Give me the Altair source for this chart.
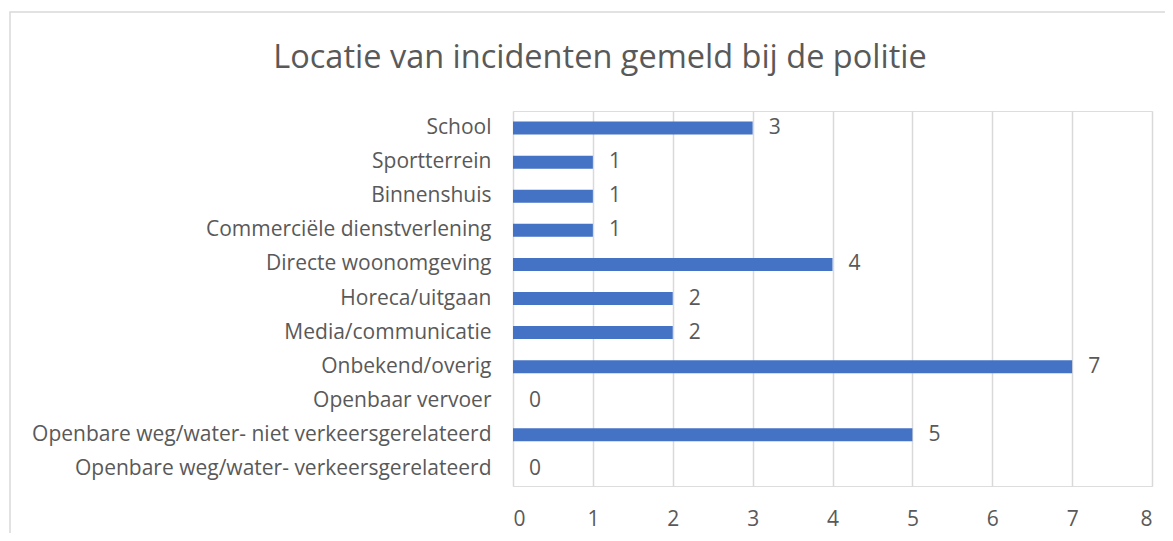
import altair as alt
import pandas as pd

categories = [
    "School",
    "Sportterrein",
    "Binnenshuis",
    "Commerciële dienstverlening",
    "Directe woonomgeving",
    "Horeca/uitgaan",
    "Media/communicatie",
    "Onbekend/overig",
    "Openbaar vervoer",
    "Openbare weg/water- niet verkeersgerelateerd",
    "Openbare weg/water- verkeersgerelateerd",
]
values = [3, 1, 1, 1, 4, 2, 2, 7, 0, 5, 0]
x_ticks = [0, 1, 2, 3, 4, 5, 6, 7, 8]
title_text = "Locatie van incidenten gemeld bij de politie"

df = pd.DataFrame({"cat": categories, "val": values})

FONT = "Open Sans"
GREY = "#595959"
FS = 21

W, H = 639, 375

y_enc = alt.Y("cat:N", sort=categories, title=None,
              scale=alt.Scale(paddingInner=0.62, paddingOuter=0.31),
              axis=alt.Axis(labelFontSize=FS, labelColor=GREY, labelFont=FONT,
                            labelPadding=22, ticks=False, domain=False,
                            labelLimit=600))
x_enc = alt.X("val:Q", title=None,
              scale=alt.Scale(domain=[0, 8], nice=False),
              axis=alt.Axis(values=x_ticks, labelFontSize=FS, labelColor=GREY,
                            labelFont=FONT, ticks=False, domain=False,
                            grid=True, gridColor="#d9d9d9", gridWidth=1.5,
                            labelPadding=22, format="d"))

one = pd.DataFrame({"t": [title_text]})

border = alt.Chart(one).mark_rect(
    fill=None, stroke="#d9d9d9", strokeWidth=1.5
).encode(x=alt.value(-503), x2=alt.value(700), y=alt.value(-99), y2=alt.value(500))

title = alt.Chart(one).mark_text(
    align="center", baseline="middle", fontSize=32.5, font=FONT, color=GREY
).encode(x=alt.value(87), y=alt.value(-53), text="t:N")

bars = alt.Chart(df).mark_bar(color="#4472C4", size=13).encode(y=y_enc, x=x_enc)

labels = alt.Chart(df).mark_text(
    align="left", baseline="middle", dx=16, fontSize=FS, font=FONT, color=GREY
).encode(y=alt.Y("cat:N", sort=categories), x=alt.X("val:Q"), text=alt.Text("val:Q"))

chart = alt.layer(border, title, bars, labels).properties(
    width=W, height=H,
    autosize=alt.AutoSizeParams(type="none"),
    padding={"left": 505, "top": 103, "right": 13, "bottom": 47},
).configure_view(stroke=None).configure(background="white")

chart.save("out.html", embed_options={"renderer": "svg", "actions": False})
